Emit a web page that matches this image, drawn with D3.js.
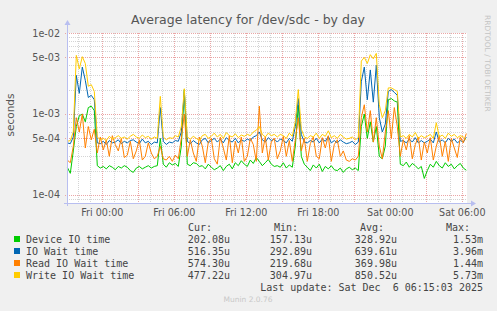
<!doctype html>
<html lang="en">
<head>
<meta charset="utf-8">
<title>Average latency for /dev/sdc - by day</title>
<script src="https://cdnjs.cloudflare.com/ajax/libs/d3/7.8.5/d3.min.js"></script>
<style>
  html, body { margin: 0; padding: 0; background: #f0f0f0; }
  svg { display: block; }
  text { font-family: "DejaVu Sans", sans-serif; }
  .mono { font-family: "DejaVu Sans Mono", monospace; }
</style>
</head>
<body>
<div id="chart"></div>
<script>
// values in microseconds, one sample every 15 minutes from Thu 21:05 (UTC)
var deviceIO = [
  220, 185, 350, 700, 950, 1000, 800, 1200, 1250, 1100,
  230, 215, 225, 210, 230, 220, 205, 225, 215, 230,
  220, 200, 190, 215, 225, 210, 220, 230, 215, 225,
  230, 500, 240, 220, 250, 235, 245, 225, 400, 2000,
  240, 230, 250, 245, 225, 230, 210, 240, 220, 205,
  215, 230, 200, 225, 240, 210, 250, 230, 265, 240,
  225, 270, 245, 290, 260, 230, 250, 275, 240, 225,
  230, 220, 250, 215, 235, 220, 400, 1280, 300, 240,
  220, 200, 235, 215, 240, 195, 225, 210, 230, 205,
  200, 215, 190, 210, 220, 205, 215, 200, 700, 1000,
  500, 800, 450, 700, 300, 280, 400, 1500, 1550, 1450,
  1400, 240, 230, 255, 220, 245, 230, 210, 225, 160,
  200, 240, 220, 260, 230, 215, 250, 225, 240, 210,
  230, 245, 215, 202
];
var ioWait = [
  440, 430, 520, 3000, 1800, 3800, 2600, 1600, 1700, 1500,
  440, 430, 460, 420, 470, 440, 450, 480, 430, 460,
  440, 470, 480, 450, 430, 490, 440, 460, 420, 450,
  440, 1200, 460, 420, 450, 440, 470, 460, 600, 1900,
  460, 430, 470, 440, 420, 480, 500, 440, 470, 500,
  450, 490, 440, 510, 470, 450, 500, 440, 480, 460,
  490, 470, 520, 540, 600, 480, 450, 510, 470, 490,
  450, 490, 470, 440, 500, 460, 700, 1550, 560, 450,
  440, 470, 450, 500, 440, 490, 460, 530, 440, 470,
  440, 480, 450, 430, 440, 460, 420, 450, 2500, 3800,
  1500, 3500, 1400, 4000, 900, 600, 750, 1900, 2000, 1850,
  1700, 460, 470, 440, 490, 450, 510, 440, 470, 440,
  460, 490, 440, 600, 450, 480, 440, 500, 460, 490,
  440, 470, 450, 516
];
var readWait = [
  270, 250, 400, 900, 600, 1000, 380, 700, 480, 650,
  330, 520, 360, 480, 300, 540, 420, 350, 500, 290,
  310, 460, 280, 350, 480, 270, 300, 440, 330, 280,
  300, 400, 280, 270, 300, 260, 310, 280, 500, 1000,
  300, 480, 330, 260, 520, 400, 250, 450, 500, 280,
  240, 520, 380, 270, 540, 250, 460, 330, 520, 260,
  300, 500, 420, 260, 1250, 330, 520, 270, 450, 500,
  280, 350, 530, 300, 470, 260, 480, 900, 350, 500,
  260, 430, 520, 300, 280, 510, 380, 540, 260, 420,
  480, 300, 350, 270, 260, 280, 270, 300, 900, 1300,
  600, 1100, 450, 900, 400, 280, 600, 1100, 500, 1200,
  700, 300, 480, 360, 540, 280, 420, 520, 270, 450,
  330, 510, 270, 400, 540, 300, 460, 260, 500, 380,
  290, 520, 440, 574
];
var writeWait = [
  460, 470, 600, 5300, 3600, 5100, 4200, 2200, 2300, 1900,
  520, 480, 500, 470, 530, 490, 510, 540, 500, 520,
  490, 530, 560, 520, 500, 550, 510, 530, 490, 520,
  500, 1650, 520, 480, 510, 500, 540, 520, 700, 2050,
  520, 490, 530, 500, 470, 540, 560, 500, 530, 580,
  520, 560, 500, 590, 540, 520, 570, 510, 550, 530,
  560, 540, 600, 630, 700, 560, 520, 580, 540, 560,
  520, 560, 540, 500, 580, 530, 800, 2000, 650, 520,
  500, 540, 520, 580, 500, 560, 530, 620, 510, 540,
  500, 560, 520, 490, 500, 520, 480, 510, 4500, 5000,
  4200, 5400, 4800, 5600, 1300, 900, 1100, 2100, 2100, 2000,
  1900, 520, 540, 500, 560, 520, 590, 500, 540, 510,
  530, 560, 500, 780, 520, 550, 500, 580, 530, 560,
  510, 540, 520, 480
];

var seriesNames = ["Device IO time", "IO Wait time", "Read IO Wait time", "Write IO Wait time"];
var seriesColors = ["#00cc00", "#0066b3", "#ff8000", "#ffcc00"];
var curValues = ["202.08u", "516.35u", "574.30u", "477.22u"];
var minValues = ["157.13u", "292.89u", "219.68u", "304.97u"];
var avgValues = ["328.92u", "639.61u", "369.98u", "850.52u"];
var maxValues = ["1.53m", "3.96m", "1.44m", "5.73m"];
var yTickValues = [100, 500, 1000, 5000, 10000];
var yTickLabels = ["1e-04", "5e-04", "1e-03", "5e-03", "1e-02"];

var W = 497, H = 311;
var plot = {left: 67, right: 467, top: 33, bottom: 203};

var startTime = Date.UTC(2025, 11, 4, 21, 5);
var step = 15 * 60 * 1000;
var times = deviceIO.map(function(d, i) { return new Date(startTime + i * step); });

var x = d3.scaleUtc()
    .domain([new Date(Date.UTC(2025, 11, 4, 21, 3, 30)), new Date(Date.UTC(2025, 11, 6, 6, 23, 30))])
    .range([plot.left, plot.right]);
var y = d3.scaleLog()
    .domain([79.6, 10000])
    .range([plot.bottom, plot.top]);

var svg = d3.select("#chart").append("svg")
    .attr("width", W)
    .attr("height", H);

svg.append("rect").attr("width", W).attr("height", H).attr("fill", "#f0f0f0");
svg.append("rect")
    .attr("x", plot.left).attr("y", plot.top)
    .attr("width", plot.right - plot.left).attr("height", plot.bottom - plot.top)
    .attr("fill", "#ffffff");

// grid
var minorY = [], majorY = [];
[10, 100, 1000, 10000].forEach(function(dec) {
  for (var m = 1; m <= 9; m++) {
    var v = dec * m;
    if (v < 79.6 || v > 10000) continue;
    if (m === 1 || m === 5) majorY.push(v); else minorY.push(v);
  }
});
var hours = x.ticks(d3.utcHour.every(1));
var minorX = hours.filter(function(t) { return t.getUTCHours() % 3 !== 0; });
var majorX = hours.filter(function(t) { return t.getUTCHours() % 3 === 0; });

var grid = svg.append("g").attr("shape-rendering", "crispEdges");
grid.selectAll(".hmin").data(minorY).enter().append("line")
    .attr("x1", plot.left).attr("x2", plot.right)
    .attr("y1", function(d) { return Math.round(y(d)) + 0.5; })
    .attr("y2", function(d) { return Math.round(y(d)) + 0.5; })
    .attr("stroke", "#d4d4d4").attr("stroke-dasharray", "1,1");
grid.selectAll(".vmin").data(minorX).enter().append("line")
    .attr("y1", plot.top).attr("y2", plot.bottom)
    .attr("x1", function(d) { return Math.round(x(d)) + 0.5; })
    .attr("x2", function(d) { return Math.round(x(d)) + 0.5; })
    .attr("stroke", "#d4d4d4").attr("stroke-dasharray", "1,1");
grid.selectAll(".hmaj").data(majorY).enter().append("line")
    .attr("x1", plot.left - 2).attr("x2", plot.right)
    .attr("y1", function(d) { return Math.round(y(d)) + 0.5; })
    .attr("y2", function(d) { return Math.round(y(d)) + 0.5; })
    .attr("stroke", "#eaa6a6").attr("stroke-dasharray", "1,1");
grid.selectAll(".vmaj").data(majorX).enter().append("line")
    .attr("y1", plot.top).attr("y2", plot.bottom + 2)
    .attr("x1", function(d) { return Math.round(x(d)) + 0.5; })
    .attr("x2", function(d) { return Math.round(x(d)) + 0.5; })
    .attr("stroke", "#eaa6a6").attr("stroke-dasharray", "1,1");

// series, drawn in munin order
var allSeries = [deviceIO, ioWait, readWait, writeWait];
var line = d3.line()
    .x(function(d, i) { return x(times[i]); })
    .y(function(d) { return y(d); });
allSeries.forEach(function(s, k) {
  svg.append("path")
      .datum(s)
      .attr("d", line)
      .attr("fill", "none")
      .attr("stroke", seriesColors[k])
      .attr("stroke-width", 1);
});

// axes
var axisColor = "#b8bef0";
svg.append("line").attr("x1", plot.left + 0.5).attr("x2", plot.left + 0.5)
    .attr("y1", plot.bottom + 3).attr("y2", plot.top - 8)
    .attr("stroke", axisColor);
svg.append("path")
    .attr("d", "M" + (plot.left - 2.5) + "," + (plot.top - 8) + "L" + (plot.left + 3.5) + "," + (plot.top - 8) + "L" + (plot.left + 0.5) + "," + (plot.top - 13) + "Z")
    .attr("fill", axisColor);
svg.append("line").attr("x1", plot.left - 3).attr("x2", plot.right + 4)
    .attr("y1", plot.bottom + 0.5).attr("y2", plot.bottom + 0.5)
    .attr("stroke", axisColor);
svg.append("path")
    .attr("d", "M" + (plot.right + 4) + "," + (plot.bottom - 2.5) + "L" + (plot.right + 4) + "," + (plot.bottom + 3.5) + "L" + (plot.right + 9) + "," + (plot.bottom + 0.5) + "Z")
    .attr("fill", axisColor);

// y tick labels
svg.append("g").selectAll("text").data(yTickValues).enter().append("text")
    .attr("x", 60)
    .attr("y", function(d) { return y(d) + 3.5; })
    .attr("text-anchor", "end")
    .attr("font-size", "9.6px")
    .attr("fill", "#555")
    .text(function(d, i) { return yTickLabels[i]; });

// x tick labels
var xLabels = x.ticks(d3.utcHour.every(6));
var fmt = d3.utcFormat("%a %H:%M");
svg.append("g").selectAll("text").data(xLabels).enter().append("text")
    .attr("x", function(d) { return x(d); })
    .attr("y", 216)
    .attr("text-anchor", "middle")
    .attr("font-size", "9.6px")
    .attr("fill", "#555")
    .text(function(d) { return fmt(d); });

// title and side texts
svg.append("text")
    .attr("x", 248).attr("y", 24)
    .attr("text-anchor", "middle")
    .attr("font-size", "12.5px")
    .attr("fill", "#555")
    .text("Average latency for /dev/sdc - by day");
svg.append("text")
    .attr("transform", "translate(14,115) rotate(-90)")
    .attr("text-anchor", "middle")
    .attr("font-size", "10.5px")
    .attr("fill", "#555")
    .text("seconds");
svg.append("text")
    .attr("transform", "translate(485,15) rotate(90)")
    .attr("font-size", "7.5px")
    .attr("fill", "#c4c4c4")
    .text("RRDTOOL / TOBI OETIKER");

// legend
var legend = svg.append("g").attr("class", "mono").attr("font-size", "10px").attr("fill", "#444");
var headers = [["Cur:", 212], ["Min:", 298], ["Avg:", 384], ["Max:", 470]];
headers.forEach(function(h) {
  legend.append("text").attr("class", "mono").attr("x", h[1]).attr("y", 231)
      .attr("text-anchor", "end").text(h[0]);
});
var cols = [[curValues, 230], [minValues, 312], [avgValues, 397], [maxValues, 483]];
seriesNames.forEach(function(name, k) {
  var yy = 243 + k * 12;
  legend.append("rect").attr("x", 14).attr("y", yy - 7).attr("width", 6).attr("height", 6)
      .attr("fill", seriesColors[k]);
  legend.append("text").attr("class", "mono").attr("x", 26).attr("y", yy).text(name);
  cols.forEach(function(c) {
    legend.append("text").attr("class", "mono").attr("x", c[1]).attr("y", yy)
        .attr("text-anchor", "end").text(c[0][k]);
  });
});
legend.append("text").attr("class", "mono").attr("x", 483).attr("y", 291)
    .attr("text-anchor", "end").attr("xml:space", "preserve")
    .style("white-space", "pre")
    .text("Last update: Sat Dec  6 06:15:03 2025");
svg.append("text")
    .attr("x", 248).attr("y", 302)
    .attr("text-anchor", "middle")
    .attr("font-size", "7.5px")
    .attr("fill", "#c8c8c8")
    .text("Munin 2.0.76");
</script>
</body>
</html>
